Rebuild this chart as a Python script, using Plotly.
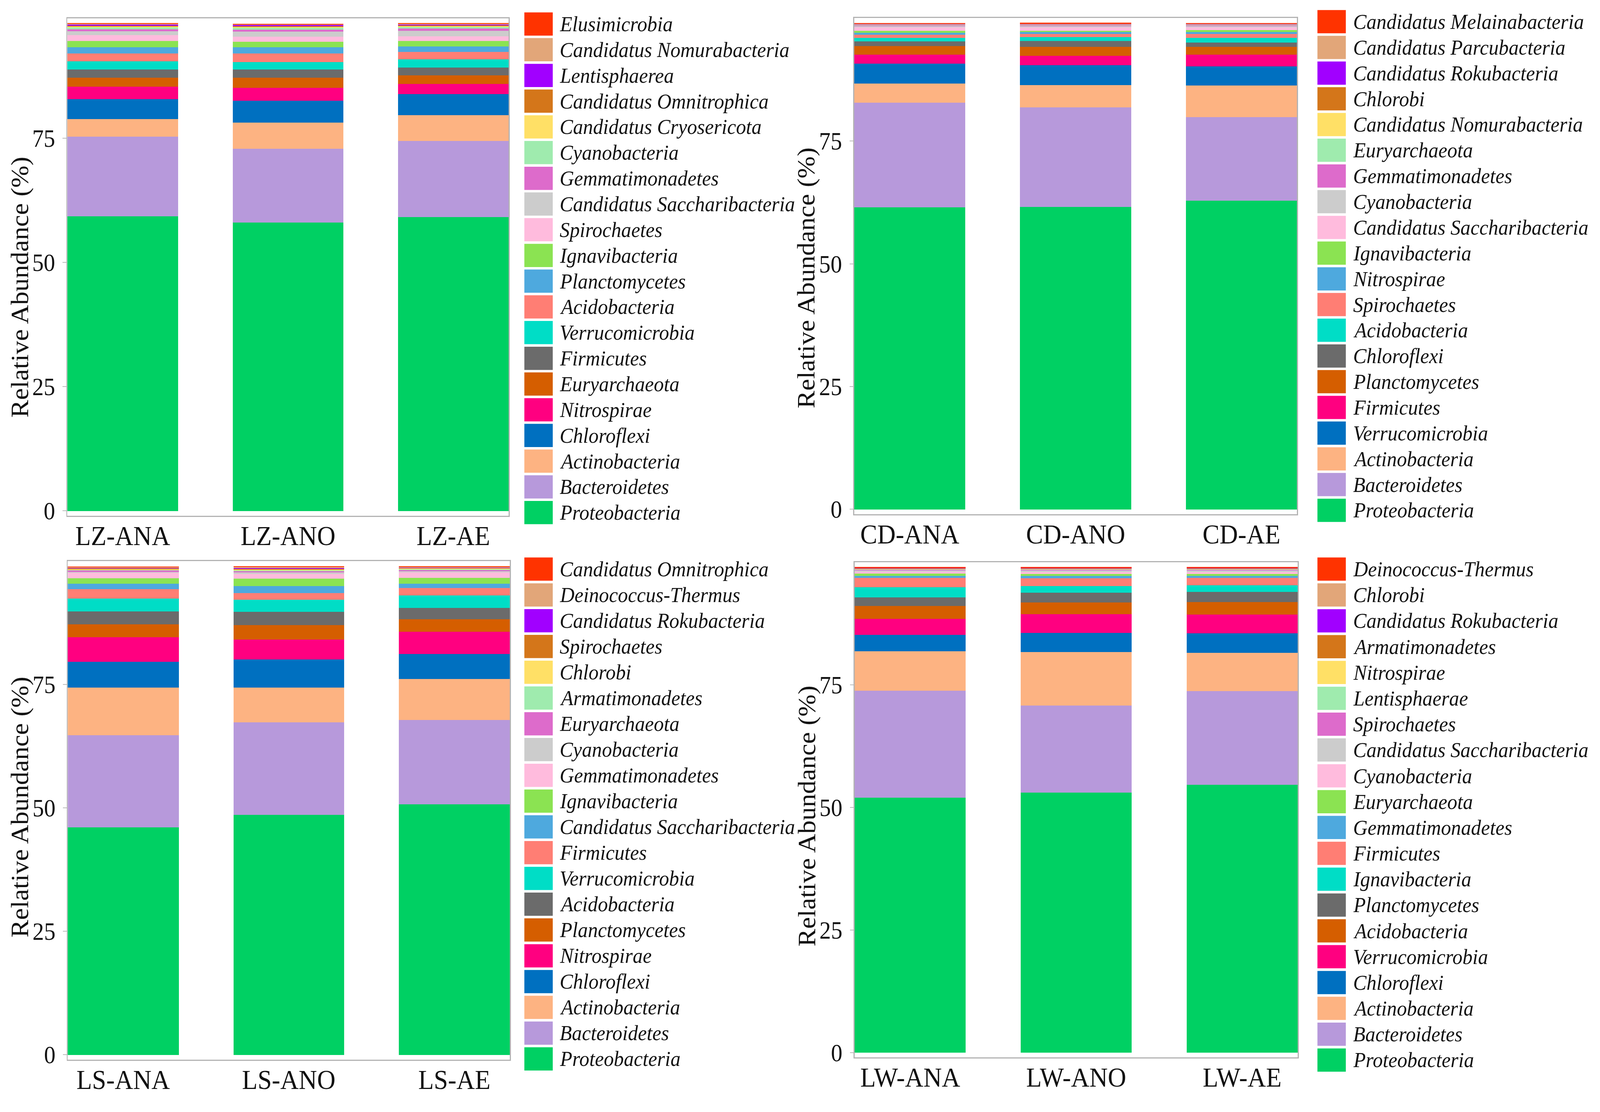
import plotly.graph_objects as go

# ---------------- data (bottom of stack -> top of stack) ----------------
lz_samples = ["LZ-ANA", "LZ-ANO", "LZ-AE"]
lz_taxa = ["Proteobacteria", "Bacteroidetes", "Actinobacteria", "Chloroflexi", "Nitrospirae",
           "Euryarchaeota", "Firmicutes", "Verrucomicrobia", "Acidobacteria", "Planctomycetes",
           "Ignavibacteria", "Spirochaetes", "Candidatus Saccharibacteria", "Gemmatimonadetes",
           "Cyanobacteria", "Candidatus Cryosericota", "Candidatus Omnitrophica", "Lentisphaerea",
           "Candidatus Nomurabacteria", "Elusimicrobia"]
lz_ana = [59.3, 16.1, 3.5, 4.0, 2.5, 1.8, 1.7, 1.6, 1.6, 1.3, 1.2, 1.2, 0.8, 0.4, 0.4, 0.2, 0.1, 0.25, 0.15, 0.1]
lz_ano = [58.1, 14.8, 5.3, 4.4, 2.6, 2.0, 1.7, 1.5, 1.7, 1.3, 1.1, 1.0, 1.0, 0.4, 0.4, 0.2, 0.1, 0.25, 0.15, 0.1]
lz_ae = [59.2, 15.3, 5.2, 4.2, 2.1, 1.7, 1.6, 1.6, 1.5, 1.1, 1.1, 1.0, 1.1, 0.4, 0.35, 0.2, 0.1, 0.2, 0.15, 0.1]

cd_samples = ["CD-ANA", "CD-ANO", "CD-AE"]
cd_taxa = ["Proteobacteria", "Bacteroidetes", "Actinobacteria", "Verrucomicrobia", "Firmicutes",
           "Planctomycetes", "Chloroflexi", "Acidobacteria", "Spirochaetes", "Nitrospirae",
           "Ignavibacteria", "Candidatus Saccharibacteria", "Cyanobacteria", "Gemmatimonadetes",
           "Euryarchaeota", "Candidatus Nomurabacteria", "Chlorobi", "Candidatus Rokubacteria",
           "Candidatus Parcubacteria", "Candidatus Melainabacteria"]
cd_ana = [61.5, 21.3, 3.9, 4.1, 1.8, 1.8, 0.9, 0.75, 0.65, 0.35, 0.45, 0.7, 0.2, 0.2, 0.1, 0.05, 0.05, 0.05, 0.1, 0.1]
cd_ano = [61.6, 20.3, 4.5, 4.1, 1.9, 1.8, 1.2, 0.8, 0.6, 0.4, 0.3, 0.7, 0.2, 0.2, 0.1, 0.05, 0.05, 0.05, 0.1, 0.15]
cd_ae = [62.9, 17.0, 6.4, 3.9, 2.4, 1.6, 0.9, 0.9, 0.8, 0.4, 0.4, 0.6, 0.2, 0.2, 0.1, 0.05, 0.05, 0.05, 0.1, 0.05]

ls_samples = ["LS-ANA", "LS-ANO", "LS-AE"]
ls_taxa = ["Proteobacteria", "Bacteroidetes", "Actinobacteria", "Chloroflexi", "Nitrospirae",
           "Planctomycetes", "Acidobacteria", "Verrucomicrobia", "Firmicutes",
           "Candidatus Saccharibacteria", "Ignavibacteria", "Gemmatimonadetes", "Cyanobacteria",
           "Euryarchaeota", "Armatimonadetes", "Chlorobi", "Spirochaetes", "Candidatus Rokubacteria",
           "Deinococcus-Thermus", "Candidatus Omnitrophica"]
ls_ana = [46.1, 18.6, 9.7, 5.2, 5.0, 2.6, 2.6, 2.6, 1.9, 1.1, 1.1, 1.1, 0.2, 0.3, 0.1, 0.2, 0.1, 0.1, 0.1, 0.2]
ls_ano = [48.6, 18.7, 7.1, 5.65, 4.05, 2.9, 2.7, 2.5, 1.3, 1.4, 1.5, 1.0, 0.3, 0.3, 0.1, 0.2, 0.15, 0.15, 0.2, 0.2]
ls_ae = [50.7, 17.1, 8.3, 5.1, 4.5, 2.5, 2.3, 2.5, 1.5, 0.9, 1.2, 1.1, 0.2, 0.3, 0.1, 0.2, 0.1, 0.1, 0.1, 0.2]

lw_samples = ["LW-ANA", "LW-ANO", "LW-AE"]
lw_taxa = ["Proteobacteria", "Bacteroidetes", "Actinobacteria", "Chloroflexi", "Verrucomicrobia",
           "Acidobacteria", "Planctomycetes", "Ignavibacteria", "Firmicutes", "Gemmatimonadetes",
           "Euryarchaeota", "Cyanobacteria", "Candidatus Saccharibacteria", "Spirochaetes",
           "Lentisphaerae", "Nitrospirae", "Armatimonadetes", "Candidatus Rokubacteria",
           "Chlorobi", "Deinococcus-Thermus"]
lw_ana = [52.0, 21.8, 8.0, 3.4, 3.25, 2.65, 1.7, 2.1, 1.9, 0.4, 0.45, 0.45, 0.25, 0.2, 0.05, 0.1, 0.05, 0.05, 0.05, 0.15]
lw_ano = [53.0, 17.8, 10.9, 3.9, 3.8, 2.4, 2.0, 1.3, 1.6, 0.5, 0.4, 0.4, 0.3, 0.2, 0.1, 0.1, 0.05, 0.05, 0.05, 0.15]
lw_ae = [54.6, 19.1, 7.8, 4.0, 3.8, 2.6, 2.0, 1.4, 1.5, 0.4, 0.4, 0.4, 0.3, 0.2, 0.1, 0.1, 0.05, 0.05, 0.05, 0.15]

y_ticks = [0, 25, 50, 75]
y_title = "Relative Abundance (%)"

# ---------------- styles ----------------
palette = ["#00D063", "#B799DB", "#FDB382", "#0070C0", "#FF0080", "#D55E00", "#6B6B6B",
           "#00DDC6", "#FF7E74", "#4EA9DE", "#8BE352", "#FFBBDD", "#CCCCCC", "#DD6BCB",
           "#9FEBAE", "#FFE066", "#D4761A", "#A100FF", "#E2A679", "#FF3300"]
W, H = 4394, 2848
FONT = "Liberation Serif"
BORDER = "#B3B3B3"
TEXT = "#111111"

panels = [
    dict(samples=lz_samples, taxa=lz_taxa, vals=[lz_ana, lz_ano, lz_ae],
         box=(185, 1397, 47, 1332), leg=(1440, 1518, 1535, 62, 1324), ytitle=(54, 742)),
    dict(samples=cd_samples, taxa=cd_taxa, vals=[cd_ana, cd_ano, cd_ae],
         box=(2346, 3562, 46, 1328), leg=(3618, 3696, 3714, 56, 1318), ytitle=(2214, 718)),
    dict(samples=ls_samples, taxa=ls_taxa, vals=[ls_ana, ls_ano, ls_ae],
         box=(186, 1400, 1449, 2737), leg=(1440, 1518, 1535, 1470, 2735), ytitle=(55, 2085)),
    dict(samples=lw_samples, taxa=lw_taxa, vals=[lw_ana, lw_ano, lw_ae],
         box=(2347, 3564, 1452, 2731), leg=(3618, 3696, 3714, 1470, 2738), ytitle=(2216, 2108)),
]

fig = go.Figure()
shapes, annotations = [], []
layout = dict(width=W, height=H, autosize=False, margin=dict(l=0, r=0, t=0, b=0),
              plot_bgcolor="white", paper_bgcolor="white", barmode="stack", bargap=0,
              showlegend=False)

for i, p in enumerate(panels, start=1):
    xa = "x" if i == 1 else f"x{i}"
    ya = "y" if i == 1 else f"y{i}"
    n = len(p["taxa"])
    for j in range(n):
        fig.add_trace(go.Bar(
            x=p["samples"], y=[v[j] for v in p["vals"]], name=p["taxa"][j],
            marker=dict(color=palette[j], line=dict(width=0)), width=0.67,
            xaxis=xa, yaxis=ya, showlegend=False,
            hovertemplate="%{x}<br>" + p["taxa"][j] + ": %{y}%<extra></extra>"))
    ymax = max(sum(v) for v in p["vals"])
    x0, x1, y0, y1 = p["box"]
    layout["xaxis" if i == 1 else f"xaxis{i}"] = dict(
        domain=[x0 / W, x1 / W], anchor=ya, range=[-0.335, 2.335], type="category",
        showline=True, mirror=True, linecolor=BORDER, linewidth=3,
        ticks="", ticklabelstandoff=-12,
        tickfont=dict(family=FONT, size=70, color=TEXT), showgrid=False, zeroline=False)
    layout["yaxis" if i == 1 else f"yaxis{i}"] = dict(
        domain=[1 - y1 / H, 1 - y0 / H], anchor=xa, range=[-0.01 * ymax, 1.01 * ymax],
        tickvals=y_ticks, showline=True, mirror=True, linecolor=BORDER, linewidth=3,
        ticks="outside", ticklen=10, tickwidth=2, tickcolor="#BBBBBB", ticklabelstandoff=8,
        tickfont=dict(family=FONT, size=63, color=TEXT), showgrid=False, zeroline=False)
    # y title
    tx, ty = p["ytitle"]
    annotations.append(dict(text=y_title, x=tx / W, y=1 - ty / H, xref="paper", yref="paper",
                            showarrow=False, textangle=-90, xanchor="center", yanchor="middle",
                            font=dict(family=FONT, size=68, color=TEXT)))
    # legend (top entry = top of stack)
    sx0, sx1, txx, c_first, c_last = p["leg"]
    step = (c_last - c_first) / (n - 1)
    for k in range(n):
        j = n - 1 - k
        cy = c_first + k * step
        shapes.append(dict(type="rect", xref="paper", yref="paper",
                           x0=sx0 / W, x1=sx1 / W, y0=1 - (cy + 30) / H, y1=1 - (cy - 30) / H,
                           fillcolor=palette[j], line=dict(width=0)))
        annotations.append(dict(text=p["taxa"][j], x=txx / W, y=1 - cy / H, xref="paper",
                                yref="paper", showarrow=False, xanchor="left", yanchor="middle",
                                font=dict(family=FONT, size=55, color=TEXT, style="italic")))

layout["shapes"] = shapes
layout["annotations"] = annotations
fig.update_layout(**layout)

# stretch the fixed 4394x2848 drawing so that it fills the browser viewport exactly
fit_js = """
(function(){
  var gd = document.getElementById('{plot_id}');
  document.documentElement.style.margin = '0';
  document.documentElement.style.overflow = 'hidden';
  document.body.style.margin = '0';
  document.body.style.overflow = 'hidden';
  var vw = window.innerWidth || document.documentElement.clientWidth;
  var vh = window.innerHeight || document.documentElement.clientHeight;
  var sx = vw / 4394, sy = vh / 2848;
  var wrap = gd.parentElement;
  wrap.style.width = vw + 'px';
  wrap.style.height = vh + 'px';
  wrap.style.overflow = 'hidden';
  gd.style.transformOrigin = '0 0';
  gd.style.transform = 'scale(' + sx + ',' + sy + ')';
})();
"""
fig.write_html("out.html", post_script=fit_js, config={"displayModeBar": False})
